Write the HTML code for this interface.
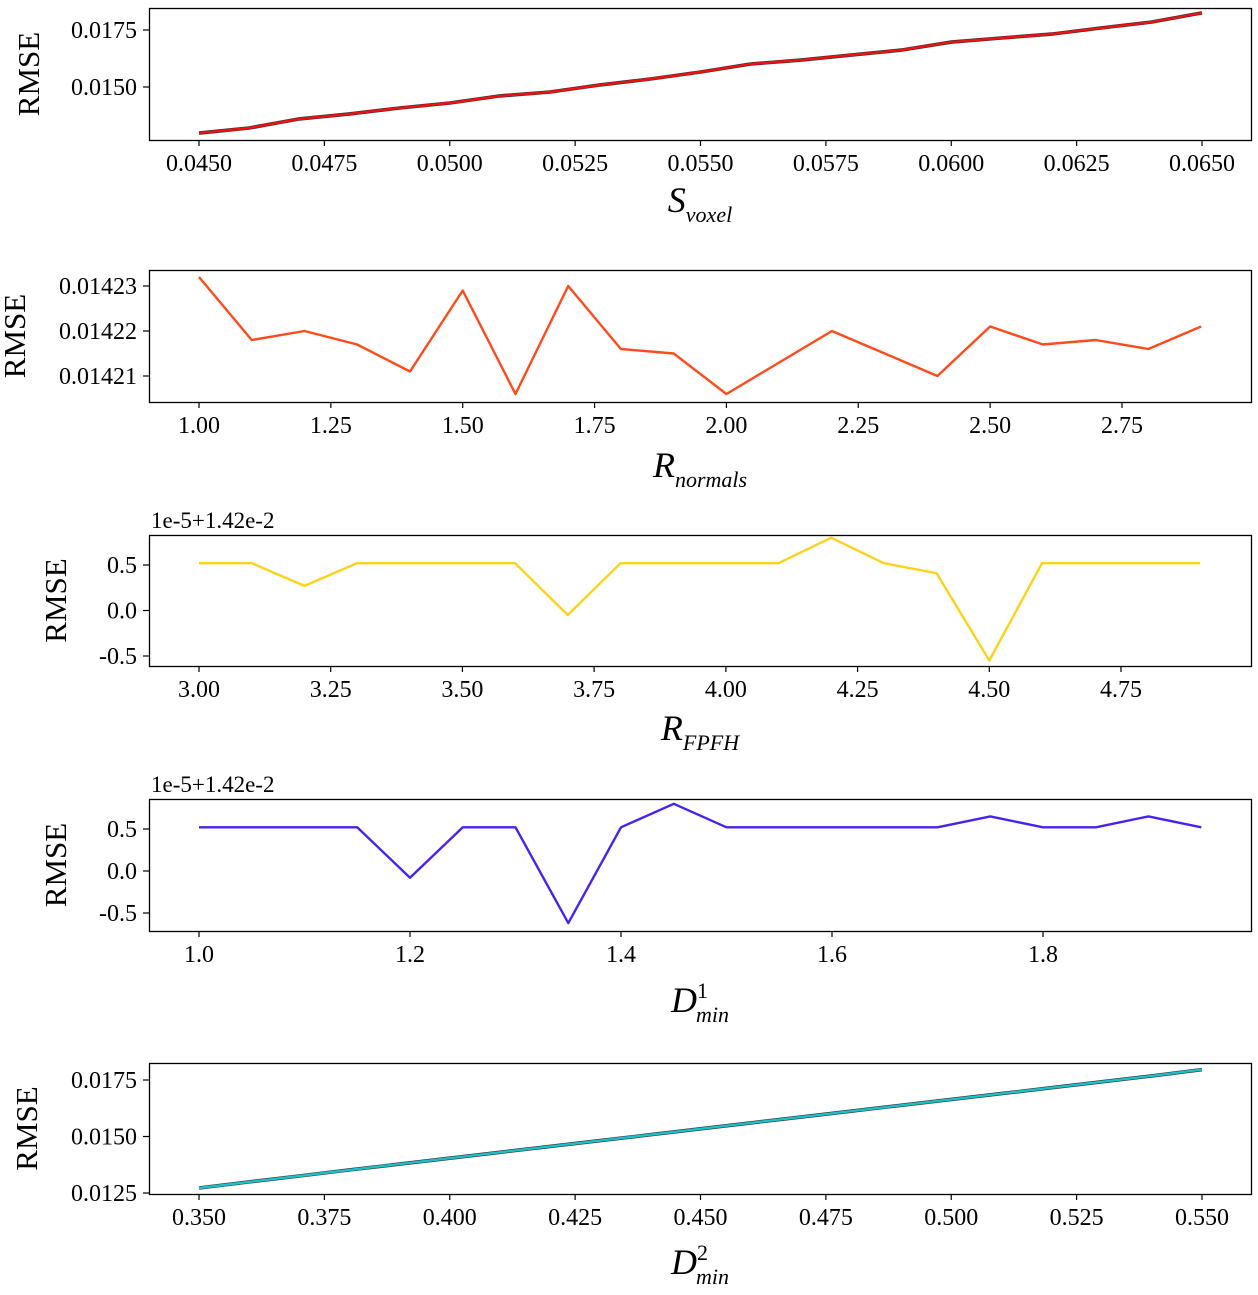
<!DOCTYPE html>
<html><head><meta charset="utf-8">
<style>
html,body{margin:0;padding:0;background:#fff;}
svg text{font-family:"Liberation Serif",serif;fill:#000;}
</style></head>
<body>
<svg id="chart" width="1258" height="1290" viewBox="0 0 1258 1290" xmlns="http://www.w3.org/2000/svg"></svg>
<script>
// ---- data ----
const voxelX = [0.045,0.046,0.047,0.048,0.049,0.050,0.051,0.052,0.053,0.054,0.055,0.056,0.057,0.058,0.059,0.060,0.061,0.062,0.063,0.064,0.065];
const voxelY = [0.01298,0.01320,0.01360,0.01382,0.01408,0.01430,0.01461,0.01478,0.01509,0.01535,0.01566,0.01601,0.01618,0.01640,0.01662,0.01697,0.01715,0.01732,0.01759,0.01785,0.01825];
const normalsX = [1.0,1.1,1.2,1.3,1.4,1.5,1.6,1.7,1.8,1.9,2.0,2.1,2.2,2.3,2.4,2.5,2.6,2.7,2.8,2.9];
const normalsY = [0.014232,0.014218,0.014220,0.014217,0.014211,0.014229,0.014206,0.014230,0.014216,0.014215,0.014206,0.014213,0.014220,0.014215,0.014210,0.014221,0.014217,0.014218,0.014216,0.014221];
const fpfhX = [3.0,3.1,3.2,3.3,3.4,3.5,3.6,3.7,3.8,3.9,4.0,4.1,4.2,4.3,4.4,4.5,4.6,4.7,4.8,4.9];
const fpfhY = [0.52,0.52,0.27,0.52,0.52,0.52,0.52,-0.05,0.52,0.52,0.52,0.52,0.80,0.52,0.41,-0.55,0.52,0.52,0.52,0.52];
const dmin1X = [1.0,1.05,1.1,1.15,1.2,1.25,1.3,1.35,1.4,1.45,1.5,1.55,1.6,1.65,1.7,1.75,1.8,1.85,1.9,1.95];
const dmin1Y = [0.52,0.52,0.52,0.52,-0.08,0.52,0.52,-0.62,0.52,0.80,0.52,0.52,0.52,0.52,0.52,0.65,0.52,0.52,0.65,0.52];
const dmin2X = [0.35,0.36,0.37,0.38,0.39,0.40,0.41,0.42,0.43,0.44,0.45,0.46,0.47,0.48,0.49,0.50,0.51,0.52,0.53,0.54,0.55];
const dmin2Y = [0.01272,0.01299,0.01325,0.01352,0.01378,0.01404,0.01430,0.01456,0.01482,0.01508,0.01534,0.01560,0.01586,0.01612,0.01638,0.01664,0.01690,0.01716,0.01742,0.01768,0.01796];
// tick labels
const voxelXTicks = ["0.0450","0.0475","0.0500","0.0525","0.0550","0.0575","0.0600","0.0625","0.0650"];
const voxelYTicks = ["0.0150","0.0175"];
const normalsXTicks = ["1.00","1.25","1.50","1.75","2.00","2.25","2.50","2.75"];
const normalsYTicks = ["0.01421","0.01422","0.01423"];
const fpfhXTicks = ["3.00","3.25","3.50","3.75","4.00","4.25","4.50","4.75"];
const fpfhYTicks = ["-0.5","0.0","0.5"];
const dmin1XTicks = ["1.0","1.2","1.4","1.6","1.8"];
const dmin1YTicks = ["-0.5","0.0","0.5"];
const dmin2XTicks = ["0.350","0.375","0.400","0.425","0.450","0.475","0.500","0.525","0.550"];
const dmin2YTicks = ["0.0125","0.0150","0.0175"];

const NS="http://www.w3.org/2000/svg";
const svg=document.getElementById('chart');
function mk(tag,attrs,parent){const e=document.createElementNS(NS,tag);for(const k in attrs)e.setAttribute(k,attrs[k]);(parent||svg).appendChild(e);return e;}

const panels=[
 {id:'voxel',xs:voxelX,ys:voxelY,xt:voxelXTicks,yt:voxelYTicks,top:8,bot:140,
  xa:[0.045,199,0.065,1202],ya:[0.0175,30,0.0150,87],color:'#ee1111',shadow:true,
  ylabX:28,labMain:'S',labSub:'voxel',labSup:'',labY:212},
 {id:'normals',xs:normalsX,ys:normalsY,xt:normalsXTicks,yt:normalsYTicks,top:270,bot:402,
  xa:[1.0,199,2.75,1122],ya:[0.01423,286,0.01421,376],color:'#ff4a1c',
  ylabX:14,labMain:'R',labSub:'normals',labSup:'',labY:477},
 {id:'fpfh',xs:fpfhX,ys:fpfhY,xt:fpfhXTicks,yt:fpfhYTicks,top:535,bot:666,
  xa:[3.0,199,4.75,1121],ya:[0.5,565,-0.5,656],color:'#ffd21a',offset:true,
  ylabX:55,labMain:'R',labSub:'FPFH',labSup:'',labY:740},
 {id:'dmin1',xs:dmin1X,ys:dmin1Y,xt:dmin1XTicks,yt:dmin1YTicks,top:799,bot:931,
  xa:[1.0,199,1.8,1043],ya:[0.5,829,-0.5,913],color:'#4a22f0',offset:true,
  ylabX:55,labMain:'D',labSub:'min',labSup:'1',labY:1012},
 {id:'dmin2',xs:dmin2X,ys:dmin2Y,xt:dmin2XTicks,yt:dmin2YTicks,top:1063,bot:1194,
  xa:[0.35,199,0.55,1202],ya:[0.0175,1080,0.0125,1193],color:'#1bc0c8',shadow:true,
  ylabX:26,labMain:'D',labSub:'min',labSup:'2',labY:1274}
];

panels.forEach(p=>{
  const g=mk('g',{});
  
  
  const xS=v=>p.xa[1]+(v-p.xa[0])*(p.xa[3]-p.xa[1])/(p.xa[2]-p.xa[0]);
  const yS=v=>p.ya[1]+(v-p.ya[0])*(p.ya[3]-p.ya[1])/(p.ya[2]-p.ya[0]);
  const frame=mk('rect',{x:149.5,y:p.top+0.5,width:1102,height:p.bot-p.top,fill:'none',stroke:'#000','stroke-width':1.3},g);
  
  
  p.xt.forEach(t=>{
    const x=xS(parseFloat(t));
    mk('line',{x1:x,x2:x,y1:p.bot,y2:p.bot+6,stroke:'#000','stroke-width':1.2},g);
    const tx=mk('text',{x:x,y:p.bot+31,'text-anchor':'middle','font-size':24},g);
    tx.textContent=t;
    
    
  });
  p.yt.forEach(t=>{
    const y=yS(parseFloat(t));
    mk('line',{x1:143,x2:149,y1:y,y2:y,stroke:'#000','stroke-width':1.2},g);
    const ty=mk('text',{x:137,y:y+8,'text-anchor':'end','font-size':24},g);
    ty.textContent=t;
    
    
  });
  if(p.offset){
    const o=mk('text',{x:151,y:p.top-7,'font-size':23},g);
    o.textContent='1e-5+1.42e-2';
    
    
  }
  const yl=mk('text',{x:0,y:0,'text-anchor':'middle','font-size':31,transform:`translate(${p.ylabX+11},${(p.top+p.bot)/2}) rotate(-90)`},g);
  yl.textContent='RMSE';
  
  
  const xl=mk('text',{x:700,y:p.labY,'text-anchor':'middle','font-size':36,'font-style':'italic'},g);
  
  
  const m=mk('tspan',{},xl); m.textContent=p.labMain;
  if(p.labSup){const s=mk('tspan',{'font-size':22,'font-style':'normal',dy:-14},xl);s.textContent=p.labSup;
    const b=mk('tspan',{'font-size':22,dx:-12,dy:24},xl);b.textContent=p.labSub;}
  else {const b=mk('tspan',{'font-size':22,dy:10},xl);b.textContent=p.labSub;}
  const pts=p.xs.map((x,i)=>xS(x).toFixed(1)+','+yS(p.ys[i]).toFixed(1)).join(' ');
  if(p.shadow){const sh=mk('polyline',{points:pts,fill:'none',stroke:'#333','stroke-width':3.6},g);
    }
  const ln=mk('polyline',{points:pts,fill:'none',stroke:p.color,'stroke-width':2.4,'stroke-linejoin':'round'},g);
  
  
});
</script>
</body></html>
